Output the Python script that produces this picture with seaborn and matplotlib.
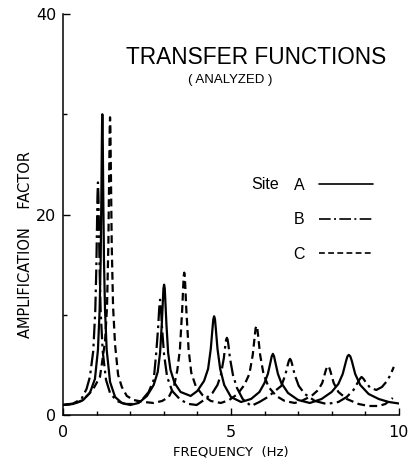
import matplotlib
matplotlib.use("Agg")
import matplotlib.pyplot as plt
import seaborn as sns
import pandas as pd
from matplotlib.lines import Line2D
from matplotlib.ticker import MultipleLocator

# ---- data (frequency in Hz, amplification factor) ----
freq_a = [0.0, 0.3, 0.6, 0.8, 0.95, 1.04, 1.09, 1.12, 1.14, 1.155, 1.163, 1.17, 1.177, 1.185, 1.20,
          1.22, 1.25, 1.30, 1.40, 1.55, 1.75, 2.0, 2.25, 2.5, 2.7, 2.82, 2.89, 2.94, 2.975, 2.99,
          3.01, 3.03, 3.045, 3.08, 3.13, 3.2, 3.32, 3.5, 3.8, 4.0, 4.2, 4.32, 4.4, 4.45, 4.475,
          4.5, 4.525, 4.55, 4.6, 4.68, 4.8, 5.0, 5.3, 5.6, 5.85, 6.0, 6.1, 6.18, 6.215, 6.25,
          6.285, 6.32, 6.4, 6.5, 6.7, 7.0, 7.35, 7.7, 8.0, 8.2, 8.33, 8.43, 8.47, 8.51, 8.555,
          8.6, 8.7, 8.85, 9.1, 9.4, 9.7, 10.0]
amp_a = [1.0, 1.1, 1.5, 2.2, 3.6, 6.5, 10.5, 15.3, 21.2, 26.8, 29.3, 30.0, 29.3, 26.8, 21.2,
         15.3, 10.5, 6.5, 3.3, 1.8, 1.2, 1.0, 1.2, 1.9, 3.0, 4.3, 6.2, 9.0, 11.5, 12.6,
         13.0, 12.6, 11.5, 9.0, 6.2, 4.5, 3.2, 2.3, 1.9, 2.4, 3.4, 4.6, 6.6, 8.6, 9.55,
         9.85, 9.55, 8.6, 6.6, 4.6, 3.0, 1.8, 1.3, 1.6, 2.3, 3.2, 4.1, 5.3, 5.85, 6.1,
         5.85, 5.3, 4.1, 3.2, 2.2, 1.5, 1.2, 1.6, 2.3, 3.1, 4.1, 5.4, 5.85, 6.0, 5.85,
         5.4, 4.1, 3.0, 2.1, 1.6, 1.3, 1.15]

freq_b = [0.0, 0.3, 0.55, 0.7, 0.8, 0.9, 0.96, 0.99, 1.01, 1.025, 1.04, 1.055, 1.07, 1.09, 1.12,
          1.18, 1.28, 1.4, 1.6, 1.85, 2.1, 2.35, 2.55, 2.7, 2.77, 2.83, 2.86, 2.875, 2.89, 2.905,
          2.92, 2.95, 3.01, 3.1, 3.25, 3.5, 3.75, 3.98, 4.2, 4.45, 4.6, 4.7, 4.79, 4.835, 4.857,
          4.88, 4.903, 4.925, 4.97, 5.06, 5.18, 5.35, 5.6, 5.85, 6.1, 6.35, 6.5, 6.62, 6.7, 6.73,
          6.76, 6.79, 6.82, 6.9, 7.02, 7.2, 7.5, 7.85, 8.2, 8.45, 8.65, 8.77, 8.84, 8.89, 8.95,
          9.03, 9.15, 9.33, 9.5, 9.65, 9.75, 9.85]
amp_b = [1.0, 1.15, 1.6, 2.6, 3.8, 6.4, 10.4, 14.4, 18.6, 21.8, 23.2, 21.8, 18.6, 14.4, 10.4,
         6.4, 3.5, 2.2, 1.4, 1.1, 1.1, 1.5, 2.3, 3.5, 6.0, 8.6, 10.4, 11.2, 11.5, 11.2,
         10.4, 8.6, 6.0, 3.8, 2.4, 1.5, 1.1, 1.0, 1.5, 2.2, 3.0, 4.0, 5.7, 7.0, 7.5,
         7.7, 7.5, 7.0, 5.7, 4.0, 2.7, 1.6, 0.9, 1.3, 1.8, 2.5, 2.9, 4.0, 5.1, 5.45,
         5.6, 5.45, 5.1, 4.0, 2.9, 2.1, 1.4, 1.1, 1.3, 1.8, 2.5, 3.2, 3.6, 3.8, 3.6,
         3.2, 2.7, 2.5, 2.8, 3.4, 4.0, 4.8]

freq_c = [0.0, 0.3, 0.55, 0.74, 0.9, 1.0, 1.1, 1.25, 1.31, 1.35, 1.375, 1.39, 1.40, 1.41, 1.425,
          1.45, 1.49, 1.55, 1.64, 1.75, 1.9, 2.1, 2.4, 2.7, 2.95, 3.15, 3.3, 3.4, 3.48, 3.55,
          3.58, 3.595, 3.61, 3.625, 3.64, 3.67, 3.74, 3.82, 3.95, 4.15, 4.4, 4.7, 4.95, 5.2, 5.4,
          5.55, 5.65, 5.71, 5.735, 5.76, 5.785, 5.81, 5.87, 5.97, 6.12, 6.35, 6.6, 6.9, 7.1, 7.4,
          7.6, 7.72, 7.82, 7.855, 7.89, 7.925, 7.96, 8.06, 8.2, 8.45, 8.8, 9.1, 9.4, 9.6, 9.82]
amp_c = [1.0, 1.1, 1.4, 2.0, 2.6, 3.2, 3.8, 7.3, 10.8, 17.0, 24.4, 28.6, 29.7, 28.6, 24.4,
         17.0, 10.8, 7.0, 4.0, 2.8, 1.9, 1.5, 1.3, 1.2, 1.4, 1.8, 2.8, 4.4, 6.5, 10.6,
         12.9, 13.9, 14.2, 13.9, 12.9, 10.6, 6.5, 4.2, 2.9, 2.0, 1.4, 1.2, 1.5, 2.1, 3.0,
         4.1, 6.0, 7.9, 8.65, 8.9, 8.65, 7.9, 6.0, 4.1, 2.8, 1.9, 1.4, 1.2, 1.4, 1.9,
         2.5, 3.2, 4.4, 4.75, 4.9, 4.75, 4.4, 3.2, 2.3, 1.6, 1.1, 0.9, 0.9, 1.1, 1.7]

site_labels = ["A", "B", "C"]
x_ticks = [0, 5, 10]
y_ticks = [0, 20, 40]

# ---- plotting ----
sns.set_theme(style="ticks")
plt.rcParams["font.family"] = ["DejaVu Sans"]

fig = plt.figure(figsize=(4.12, 4.62), dpi=100)
ax = fig.add_axes([0.153, 0.1017, 0.815, 0.868])

df_a = pd.DataFrame({"f": freq_a, "amp": amp_a})
df_b = pd.DataFrame({"f": freq_b, "amp": amp_b})
df_c = pd.DataFrame({"f": freq_c, "amp": amp_c})

dashdot = (0, (7, 2, 1.2, 2))
dashed = (0, (3.5, 2))
lw = 1.6
sns.lineplot(data=df_a, x="f", y="amp", ax=ax, color="black", lw=lw, sort=False)
sns.lineplot(data=df_b, x="f", y="amp", ax=ax, color="black", lw=lw, sort=False,
             linestyle=dashdot)
sns.lineplot(data=df_c, x="f", y="amp", ax=ax, color="black", lw=lw, sort=False,
             linestyle=dashed)

ax.set_xlim(0, 10)
ax.set_ylim(0, 40)
ax.set_xticks(x_ticks)
ax.set_yticks(y_ticks)
ax.xaxis.set_minor_locator(MultipleLocator(1))
ax.yaxis.set_minor_locator(MultipleLocator(10))
ax.tick_params(axis="both", which="major", direction="in", length=5, width=1,
               labelsize=11.5, colors="black", pad=5)
ax.tick_params(axis="both", which="minor", direction="in", length=3, width=1, colors="black")
ax.tick_params(axis="x", which="major", pad=7)

for s in ["top", "right"]:
    ax.spines[s].set_visible(False)
for s in ["left", "bottom"]:
    ax.spines[s].set_color("black")
    ax.spines[s].set_linewidth(1.1)

ax.set_xlabel("FREQUENCY  (Hz)", fontsize=9.5, color="black")
ax.xaxis.set_label_coords(0.5, -0.077)
ax.set_ylabel("AMPLIFICATION    FACTOR", fontsize=10.5, color="black")
ax.yaxis.set_label_coords(-0.088, 0.424)

fig.text(0.622, 0.875, "TRANSFER FUNCTIONS", fontsize=16.3, ha="center", va="center",
         family="Liberation Sans", color="black")
fig.text(0.558, 0.826, "( ANALYZED )", fontsize=9.5, ha="center", va="center",
         family="Liberation Sans", color="black")

handles = [Line2D([], [], color="black", lw=1.2, linestyle="-"),
           Line2D([], [], color="black", lw=1.2, linestyle=dashdot),
           Line2D([], [], color="black", lw=1.2, linestyle=dashed)]
leg = fig.legend(handles, site_labels, loc="upper left", bbox_to_anchor=(0.676, 0.646),
                 frameon=False, markerfirst=False, handlelength=3.4, handletextpad=0.9,
                 labelspacing=1.22, prop={"family": "Liberation Sans", "size": 11.5})
for t in leg.get_texts():
    t.set_color("black")
fig.text(0.677, 0.600, "Site", fontsize=11.5, ha="right", va="center",
         family="Liberation Sans", color="black")

fig.savefig("out.png", dpi=100, facecolor="white")
